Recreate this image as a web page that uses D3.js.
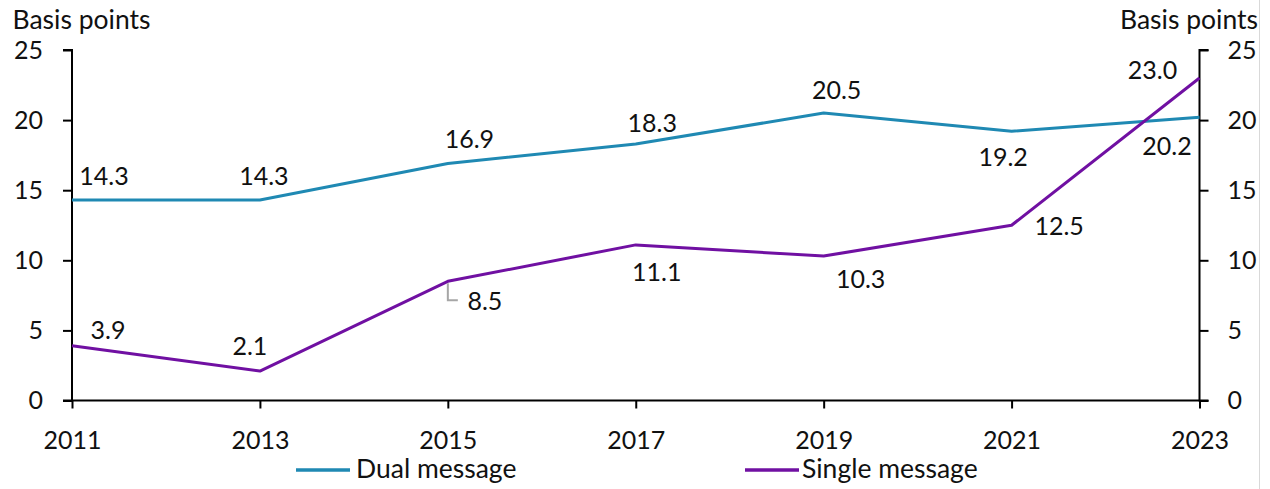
<!DOCTYPE html>
<html>
<head>
<meta charset="utf-8">
<script src="https://cdn.jsdelivr.net/npm/d3@7"></script>
<style>
  html, body { margin: 0; padding: 0; background: #fff; }
  svg { display: block; }
  text { font-family: Lato, "Open Sans", sans-serif; font-size: 25px; fill: #111; }
  text.big { font-size: 26.5px; }
</style>
</head>
<body>
<svg id="chart" width="1270" height="489"></svg>
<script>
// ---- Data ----
const years = [2011, 2013, 2015, 2017, 2019, 2021, 2023];
const dualMessage = [14.3, 14.3, 16.9, 18.3, 20.5, 19.2, 20.2];
const singleMessage = [3.9, 2.1, 8.5, 11.1, 10.3, 12.5, 23.0];
const yTicks = [0, 5, 10, 15, 20, 25];
const seriesNames = ["Dual message", "Single message"];
const axisTitle = "Basis points";

// ---- Layout (label offsets in px, relative to the point) ----
const dualLabelOffsets = [[32, -24], [4, -24], [21.5, -25], [16.5, -21], [13, -23.5], [-8.5, 25.7], [-32.5, 28.7]];
const singleLabelOffsets = [[36, -16], [-10, -25], [37, 20], [21, 27], [37, 23], [47.5, 1], [-47, -8]];
const colors = { dual: "#1f89b3", single: "#7010a2" };

const svg = d3.select("#chart");
const x = d3.scalePoint().domain(years).range([72, 1199.5]);
const y = d3.scaleLinear().domain([0, 25]).range([400.5, 50]);

// right frame line
svg.append("line").attr("x1", 1259.5).attr("x2", 1259.5).attr("y1", 0).attr("y2", 489)
  .attr("stroke", "#d9d9d9").attr("stroke-width", 1);

// axes
const leftAxis = d3.axisLeft(y).tickValues(yTicks).tickSize(9).tickPadding(20).tickFormat(d3.format("d"));
const rightAxis = d3.axisRight(y).tickValues(yTicks).tickSize(9).tickPadding(20).tickFormat(d3.format("d"));
const bottomAxis = d3.axisBottom(x).tickSize(8).tickPadding(25).tickFormat(d3.format("d"));

function styleAxis(g) {
  g.select(".domain").attr("stroke", "#000").attr("stroke-width", 2);
  g.selectAll(".tick line").attr("stroke", "#000").attr("stroke-width", 2);
  g.selectAll(".tick text").attr("font-family", "Lato, sans-serif").attr("font-size", 25).attr("fill", "#111");
}

svg.append("g").attr("transform", "translate(72,0)").call(leftAxis).call(styleAxis)
  .call(g => g.select(".domain").attr("d", "M-9,50H0V400.5H-9"));
svg.append("g").attr("transform", "translate(1199.5,0)").call(rightAxis).call(styleAxis)
  .call(g => g.selectAll(".tick text").attr("x", 28))
  .call(g => g.select(".domain").attr("d", "M9,50H0V400.5H9"));
svg.append("g").attr("transform", "translate(0,400.5)").call(bottomAxis).call(styleAxis)
  .call(g => g.select(".domain").attr("d", "M72,0H1199.5"))
  .call(g => g.selectAll(".tick text").attr("dy", null).attr("y", 48.5));

// axis titles
svg.append("text").attr("class", "big").attr("x", 12.5).attr("y", 29).text(axisTitle);
svg.append("text").attr("class", "big").attr("x", 1258).attr("y", 29).attr("text-anchor", "end").text(axisTitle);

// lines
const line = d3.line().x((d, i) => x(years[i])).y(d => y(d));
svg.append("path").datum(dualMessage).attr("d", line)
  .attr("fill", "none").attr("stroke", colors.dual).attr("stroke-width", 3).attr("stroke-linejoin", "round");
svg.append("path").datum(singleMessage).attr("d", line)
  .attr("fill", "none").attr("stroke", colors.single).attr("stroke-width", 3).attr("stroke-linejoin", "round");

// leader line for 2015 single label
{
  const px = x(years[2]), py = y(singleMessage[2]);
  const off = singleLabelOffsets[2];
  svg.append("path")
    .attr("d", `M${px},${py + 2}V${py + off[1] - 1}H${px + 10}`)
    .attr("fill", "none").attr("stroke", "#a6a6a6").attr("stroke-width", 2);
}

// data labels
function addLabels(values, offsets) {
  svg.append("g").selectAll("text").data(values).join("text")
    .attr("x", (d, i) => x(years[i]) + offsets[i][0])
    .attr("y", (d, i) => y(d) + offsets[i][1] + 9)
    .attr("text-anchor", "middle")
    .text(d => d3.format(".1f")(d));
}
addLabels(dualMessage, dualLabelOffsets);
addLabels(singleMessage, singleLabelOffsets);

// legend
const legend = [
  { name: seriesNames[0], color: colors.dual, x1: 296, x2: 350, tx: 356 },
  { name: seriesNames[1], color: colors.single, x1: 745, x2: 799, tx: 802 }
];
const lg = svg.append("g");
legend.forEach(l => {
  lg.append("line").attr("x1", l.x1).attr("x2", l.x2).attr("y1", 470).attr("y2", 470)
    .attr("stroke", l.color).attr("stroke-width", 3.5);
  lg.append("text").attr("class", "big").attr("x", l.tx).attr("y", 478).text(l.name);
});
</script>
</body>
</html>
